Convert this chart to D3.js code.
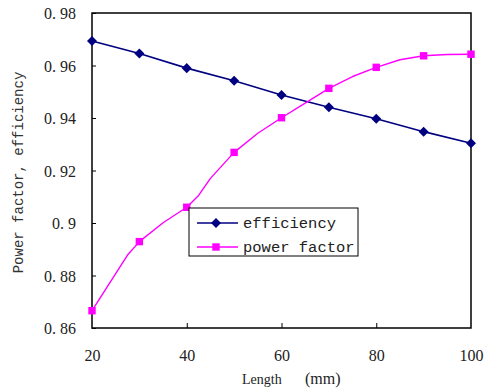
<!DOCTYPE html>
<html>
<head>
<meta charset="utf-8">
<script src="https://cdn.jsdelivr.net/npm/d3@7/dist/d3.min.js"></script>
<style>
  html, body { margin: 0; padding: 0; background: #fff; }
  svg { display: block; }
</style>
</head>
<body>
<div id="chart"></div>
<script>
// Rotor length (mm) sampled every 10 mm
const lengths = [20, 30, 40, 50, 60, 70, 80, 90, 100];
const efficiency = [0.9693, 0.9646, 0.9590, 0.9542, 0.9488, 0.9441, 0.9397, 0.9348, 0.9304];
const powerFactor = [0.8666, 0.8929, 0.9060, 0.9269, 0.9401, 0.9513, 0.9593, 0.9637, 0.9643];

// Finer power-factor trace used for the connecting curve
const pfTraceLength = [20, 27.5, 30, 35, 40, 42.5, 45, 50, 55, 60, 65, 70, 75, 80, 85, 90, 95, 100];
const pfTraceValue = [0.8666, 0.8878, 0.8929, 0.9001, 0.9060, 0.9105, 0.9170, 0.9269, 0.9342, 0.9401, 0.9457, 0.9513, 0.9558, 0.9593, 0.9622, 0.9637, 0.9642, 0.9643];

const xTicks = [20, 40, 60, 80, 100];
const yTicks = [0.86, 0.88, 0.90, 0.92, 0.94, 0.96, 0.98];
const yTickLabels = ["0. 86", "0. 88", "0. 9", "0. 92", "0. 94", "0. 96", "0. 98"];
const seriesNames = ["efficiency", "power factor"];

const W = 486, H = 389;
const plot = { left: 92, right: 471, top: 13, bottom: 328 };

const svg = d3.select("#chart").append("svg")
  .attr("width", W).attr("height", H);

const x = d3.scaleLinear().domain([20, 100]).range([plot.left, plot.right]);
const y = d3.scaleLinear().domain([0.86, 0.98]).range([plot.bottom, plot.top]);

const serif = "'Liberation Serif', 'DejaVu Serif', serif";
const mono = "'Liberation Mono', 'DejaVu Sans Mono', monospace";

// Axes with inward ticks
const yAxis = d3.axisLeft(y).tickValues(yTicks).tickSize(-4).tickPadding(16)
  .tickFormat((d, i) => yTickLabels[i]);
const gy = svg.append("g").attr("transform", `translate(${plot.left},0)`).call(yAxis);
gy.attr("font-family", null);
gy.select(".domain").remove();
gy.selectAll(".tick line").attr("stroke", "#000").attr("stroke-width", 1);
gy.selectAll(".tick text")
  .style("font-family", serif).attr("font-size", 16).attr("fill", "#222")
  .attr("dy", "0.35em");

const xAxis = d3.axisBottom(x).tickValues(xTicks).tickSize(-5).tickPadding(22)
  .tickFormat(d3.format("d"));
const gx = svg.append("g").attr("transform", `translate(0,${plot.bottom})`).call(xAxis);
gx.attr("font-family", null);
gx.select(".domain").remove();
gx.selectAll(".tick line").attr("stroke", "#000").attr("stroke-width", 1)
  .filter(d => d === 20 || d === 100).remove();
gx.selectAll(".tick text")
  .style("font-family", serif).attr("font-size", 16).attr("fill", "#222");

// Plot frame
svg.append("rect")
  .attr("x", plot.left).attr("y", plot.top)
  .attr("width", plot.right - plot.left).attr("height", plot.bottom - plot.top)
  .attr("fill", "none").attr("stroke", "#000").attr("stroke-width", 1.5);

// Axis titles
svg.append("text")
  .attr("transform", `translate(23,${(plot.top + plot.bottom) / 2 + 2}) rotate(-90)`)
  .attr("text-anchor", "middle")
  .style("font-family", mono).attr("font-size", 14).attr("fill", "#333")
  .text("Power factor, efficiency");

const xt = svg.append("text")
  .attr("y", 384).style("font-family", serif).attr("fill", "#222");
xt.append("tspan").attr("x", 242).attr("font-size", 14).text("Length");
xt.append("tspan").attr("x", 305).attr("font-size", 16).text("(mm)");

// Series lines
const effLine = d3.line().x((d, i) => x(lengths[i])).y(d => y(d));
svg.append("path").datum(efficiency)
  .attr("d", effLine).attr("fill", "none")
  .attr("stroke", "#000080").attr("stroke-width", 1.6);

const pfLine = d3.line().x((d, i) => x(pfTraceLength[i])).y(d => y(d));
svg.append("path").datum(pfTraceValue)
  .attr("d", pfLine).attr("fill", "none")
  .attr("stroke", "#FF00FF").attr("stroke-width", 1.4)
  .attr("stroke-linejoin", "round");

// Markers
const diamond = d3.symbol().type(d3.symbolDiamond2).size(64);
const square = d3.symbol().type(d3.symbolSquare2).size(70);

svg.append("g").selectAll("path").data(efficiency).join("path")
  .attr("d", diamond)
  .attr("transform", (d, i) => `translate(${x(lengths[i])},${y(d)})`)
  .attr("fill", "#000080");

svg.append("g").selectAll("path").data(powerFactor).join("path")
  .attr("d", square)
  .attr("transform", (d, i) => `translate(${x(lengths[i])},${y(d)})`)
  .attr("fill", "#FF00FF");

// Legend
const legend = svg.append("g").attr("transform", "translate(189,208)");
legend.append("rect").attr("width", 169).attr("height", 48)
  .attr("fill", "#fff").attr("stroke", "#000").attr("stroke-width", 1);
const rows = [
  { name: seriesNames[0], color: "#000080", sym: diamond, yy: 15 },
  { name: seriesNames[1], color: "#FF00FF", sym: square, yy: 39 }
];
rows.forEach(r => {
  legend.append("line").attr("x1", 8).attr("x2", 49).attr("y1", r.yy).attr("y2", r.yy)
    .attr("stroke", r.color).attr("stroke-width", 1.5);
  legend.append("path").attr("d", r.sym).attr("transform", `translate(27,${r.yy})`)
    .attr("fill", r.color);
  legend.append("text").attr("x", 54).attr("y", r.yy).attr("dy", "0.35em")
    .style("font-family", mono).attr("font-size", 15.5).attr("fill", "#222")
    .text(r.name);
});
</script>
</body>
</html>
